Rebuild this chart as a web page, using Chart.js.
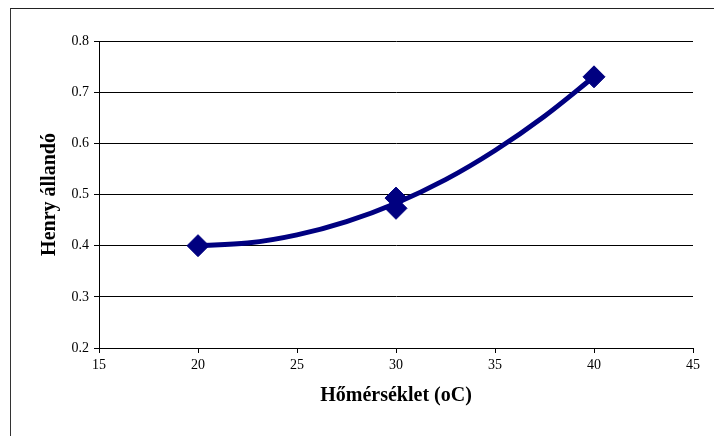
<!DOCTYPE html>
<html>
<head>
<meta charset="utf-8">
<script src="https://cdn.jsdelivr.net/npm/chart.js@4"></script>
<style>
    html, body { margin: 0; padding: 0; background: #fff; }
    #wrap { position: relative; width: 714px; height: 436px; overflow: hidden; }
    #frame {
        position: absolute; left: 10px; top: 8px; width: 720px; height: 440px;
        border-left: 1.5px solid #333; border-top: 1.5px solid #222;
        pointer-events: none;
    }
</style>
</head>
<body>
<div id="wrap">
    <canvas id="henryChart" width="714" height="436"></canvas>
    <div id="frame"></div>
</div>
<script>
// mért pontok
const homerseklet = [20, 30, 30, 40];
const henryAllando = [0.40, 0.493, 0.473, 0.73];

// trendvonal értékei
const trendX = [20, 22.5, 25, 27.5, 30, 32.5, 35, 37.5, 40];
const trendY = [0.400, 0.405, 0.421, 0.447, 0.483, 0.529, 0.586, 0.653, 0.730];

const yTicks = [0.2, 0.3, 0.4, 0.5, 0.6, 0.7, 0.8];
const xTicks = [15, 20, 25, 30, 35, 40, 45];

document.addEventListener("DOMContentLoaded", function () {
    f_henry();
})

function f_henry() {
    const navy = '#000080';
    const serif = "'Liberation Serif', 'Times New Roman', serif";
    const ctx = document.getElementById('henryChart').getContext('2d');
    new Chart(ctx, {
        type: 'scatter',
        data: {
            datasets: [
                {
                    label: 'Trend',
                    data: trendX.map((x, i) => ({ x: x, y: trendY[i] })),
                    showLine: true,
                    borderColor: navy,
                    borderWidth: 5,
                    pointRadius: 0,
                    cubicInterpolationMode: 'monotone',
                    order: 2
                },
                {
                    label: 'Henry állandó',
                    data: homerseklet.map((x, i) => ({ x: x, y: henryAllando[i] })),
                    showLine: false,
                    pointStyle: 'rectRot',
                    pointRadius: 11,
                    backgroundColor: navy,
                    borderColor: navy,
                    borderWidth: 1,
                    order: 1
                }
            ]
        },
        options: {
            responsive: false,
            animation: false,
            layout: { padding: { left: 0, right: 21, top: 41, bottom: 0 } },
            plugins: {
                legend: { display: false },
                tooltip: { enabled: false }
            },
            scales: {
                x: {
                    type: 'linear',
                    min: 15,
                    max: 45,
                    afterBuildTicks: s => { s.ticks = xTicks.map(v => ({ value: v })); },
                    afterFit: s => { s.height = 88; },
                    grid: { drawOnChartArea: false, color: '#000', tickLength: 5, tickColor: '#000' },
                    border: { color: '#000', width: 1 },
                    ticks: { color: '#000', padding: 4, font: { family: serif, size: 14 } },
                    title: {
                        display: true,
                        text: 'Hőmérséklet (oC)',
                        color: '#000',
                        padding: { top: 28, bottom: 28 },
                        font: { family: serif, size: 20, weight: 'bold' }
                    }
                },
                y: {
                    type: 'linear',
                    min: 0.2,
                    max: 0.8,
                    afterBuildTicks: s => { s.ticks = yTicks.map(v => ({ value: v })); },
                    afterFit: s => { s.width = 99; },
                    grid: { color: '#000', lineWidth: 1, tickLength: 5, tickColor: '#000' },
                    border: { color: '#000', width: 1 },
                    ticks: {
                        color: '#000',
                        padding: 5,
                        font: { family: serif, size: 14 },
                        callback: v => v.toFixed(1)
                    },
                    title: {
                        display: true,
                        text: 'Henry állandó',
                        color: '#000',
                        padding: { top: 38, bottom: 38 },
                        font: { family: serif, size: 20, weight: 'bold' }
                    }
                }
            }
        }
    });
}
</script>
</body>
</html>
